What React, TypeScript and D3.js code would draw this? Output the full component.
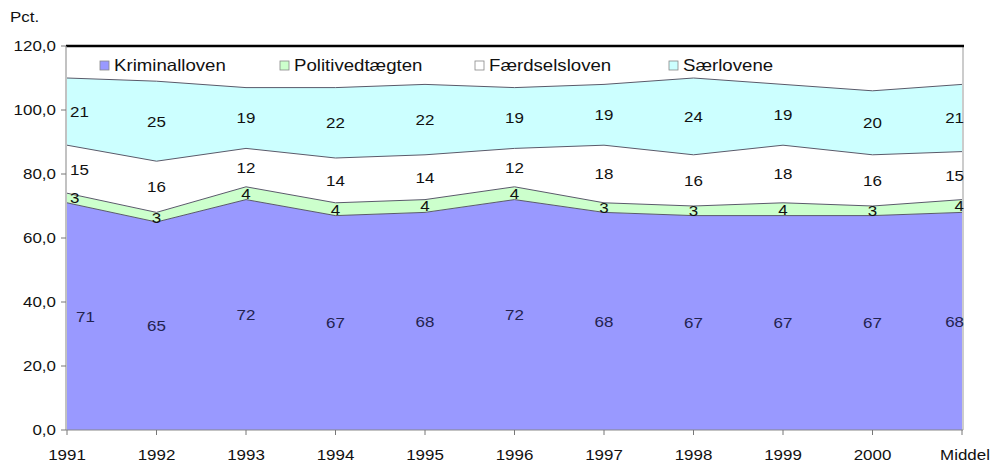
import React from "react";
import * as d3 from "d3";

const categories = ["1991", "1992", "1993", "1994", "1995", "1996", "1997", "1998", "1999", "2000", "Middel"];
const kriminalloven = [71, 65, 72, 67, 68, 72, 68, 67, 67, 67, 68];
const politivedtaegten = [3, 3, 4, 4, 4, 4, 3, 3, 4, 3, 4];
const faerdselsloven = [15, 16, 12, 14, 14, 12, 18, 16, 18, 16, 15];
const saerlovene = [21, 25, 19, 22, 22, 19, 19, 24, 19, 20, 21];
const seriesNames = ["Kriminalloven", "Politivedtægten", "Færdselsloven", "Særlovene"];
const yTicks = [0, 20, 40, 60, 80, 100, 120];

const colors = ["#9999ff", "#ccffcc", "#ffffff", "#ccffff"];
const labelColors = ["#23234f", "#111111", "#111111", "#111111"];

const SX = 1.13;

function T(props: { x: number; y: number; anchor?: string; size?: number; fill?: string; children: any; dy?: string }) {
  const { x, y, anchor = "start", size = 15, fill = "#111", children, dy = "0.36em" } = props;
  return (
    <text
      transform={`translate(${x},${y}) scale(${SX},1)`}
      x={0}
      y={0}
      dy={dy}
      textAnchor={anchor}
      fontSize={size}
      fill={fill}
    >
      {children}
    </text>
  );
}

export default function App() {
  const W = 993, H = 464;
  const left = 66, right = 963, top = 46, bottom = 430;
  const x = d3.scalePoint<string>().domain(categories).range([left + 1, right - 1]);
  const y = d3.scaleLinear().domain([0, 120]).range([bottom, top]);

  const rows = categories.map((c, i) => ({
    cat: c,
    s0: kriminalloven[i],
    s1: politivedtaegten[i],
    s2: faerdselsloven[i],
    s3: saerlovene[i],
  }));
  const stack = d3.stack<any>().keys(["s0", "s1", "s2", "s3"]);
  const layers = stack(rows);

  const area = d3
    .area<any>()
    .x((d) => x(d.data.cat) as number)
    .y0((d) => y(d[0]))
    .y1((d) => y(d[1]));
  const line = d3
    .line<any>()
    .x((d) => x(d.data.cat) as number)
    .y((d) => y(d[1]));

  const font = "'Liberation Sans', Arial, Helvetica, sans-serif";
  const legendX = [100, 280, 475, 669];

  return (
    <svg width={W} height={H} style={{ position: "absolute", left: 0, top: 0 }} fontFamily={font}>
      <rect x={0} y={0} width={W} height={H} fill="#ffffff" />
      <T x={10} y={17}>Pct.</T>
      <rect x={left} y={top} width={right - left} height={bottom - top} fill="#ffffff" />
      {layers.map((layer, i) => (
        <path key={"a" + i} d={area(layer) as string} fill={colors[i]} stroke="none" />
      ))}
      {layers.map((layer, i) => (
        <path key={"l" + i} d={line(layer) as string} fill="none" stroke="#5a5a6a" strokeWidth={1} />
      ))}
      <line x1={right} x2={right} y1={top} y2={bottom} stroke="#999" strokeWidth={1} />
      <line x1={left} x2={right + 1} y1={top} y2={top} stroke="#000" strokeWidth={2.5} />
      <line x1={left} x2={left} y1={top} y2={bottom} stroke="#999" strokeWidth={1.2} />
      <line x1={left} x2={right} y1={bottom} y2={bottom} stroke="#888" strokeWidth={1.2} />
      {yTicks.map((t) => (
        <g key={"y" + t}>
          <line x1={left - 5} x2={left} y1={y(t)} y2={y(t)} stroke="#777" />
          <T x={left - 10} y={y(t)} anchor="end">{t.toFixed(1).replace(".", ",")}</T>
        </g>
      ))}
      {categories.map((c) => (
        <g key={"x" + c}>
          <line x1={x(c)} x2={x(c)} y1={bottom} y2={bottom + 5} stroke="#777" />
          <T x={(x(c) as number) + (c === "Middel" ? 3 : 0)} y={455} anchor="middle">{c}</T>
        </g>
      ))}
      {layers.map((layer, i) =>
        layer.map((d: any, j: number) => {
          const v = d[1] - d[0];
          const px = x(d.data.cat) as number;
          const first = j === 0;
          const last = j === categories.length - 1;
          return (
            <T
              key={"t" + i + "-" + j}
              x={first ? px + (i === 0 ? 9 : 3) : last ? right + 1 : px}
              y={y((d[0] + d[1]) / 2)}
              anchor={first ? "start" : last ? "end" : "middle"}
              fill={labelColors[i]}
            >
              {v}
            </T>
          );
        })
      )}
      {seriesNames.map((n, i) => (
        <g key={"lg" + i}>
          <rect x={legendX[i]} y={61} width={9} height={9} fill={colors[i]} stroke="#888" strokeWidth={0.8} />
          <T x={legendX[i] + 14} y={65} size={16.5}>{n}</T>
        </g>
      ))}
    </svg>
  );
}
